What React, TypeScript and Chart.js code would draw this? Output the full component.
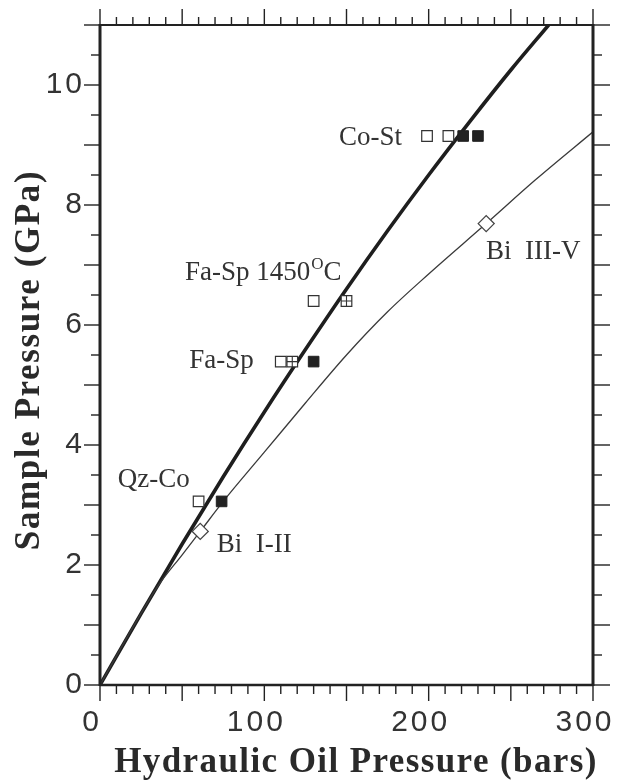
import React, { useEffect, useRef } from 'react';
import { Chart, registerables } from 'chart.js';

Chart.register(...registerables);

// Thick calibration curve (hydraulic oil pressure in bars -> sample pressure in GPa)
const thickX = [0, 25, 50, 75, 100, 125, 150, 175, 200, 225, 250, 273];
const thickY = [0, 1.19, 2.35, 3.47, 4.55, 5.59, 6.6, 7.57, 8.5, 9.39, 10.25, 11.0];

// Thin curve (Bi transitions)
const thinX = [0, 20, 35, 50, 61, 75, 100, 125, 150, 175, 200, 235, 265, 300];
const thinY = [0, 0.96, 1.64, 2.17, 2.56, 3.06, 3.88, 4.7, 5.5, 6.22, 6.85, 7.69, 8.42, 9.22];

// Open squares: Co-St, Co-St, Fa-Sp 1450, Fa-Sp, Qz-Co
const openSqX = [199, 212, 130, 110, 60];
const openSqY = [9.15, 9.15, 6.4, 5.39, 3.06];

// Crossed squares: Fa-Sp 1450, Fa-Sp
const gridSqX = [150, 117];
const gridSqY = [6.4, 5.39];

// Filled squares: Co-St, Co-St, Fa-Sp, Qz-Co
const filledSqX = [221, 230, 130, 74];
const filledSqY = [9.15, 9.15, 5.39, 3.06];

// Diamonds: Bi I-II, Bi III-V
const diamondX = [61, 235];
const diamondY = [2.56, 7.69];

// Axis ticks
const xTickStep = 100;
const yTickStep = 2;
const xMin = 0, xMax = 300, yMin = 0, yMax = 11;

// Annotation labels (anchored in data coordinates, left/baseline)
const noteText = ['Co-St', 'Fa-Sp 1450', 'Fa-Sp', 'Qz-Co', 'Bi  I-II', 'Bi  III-V'];
const noteX = [145.5, 51.7, 54.3, 10.8, 71, 234.9];
const noteY = [9.0, 6.75, 5.28, 3.3, 2.22, 7.1];

const xTitle = 'Hydraulic Oil Pressure (bars)';
const yTitle = 'Sample Pressure (GPa)';

const toXY = (xs: number[], ys: number[]) => xs.map((x, i) => ({ x, y: ys[i] }));

const framePlugin = {
  id: 'frame',
  beforeDraw(chart: any) {
    chart.ctx.letterSpacing = '3px';
  },
  afterDraw(chart: any) {
    const ctx = chart.ctx as CanvasRenderingContext2D;
    const { left, right, top, bottom } = chart.chartArea;
    const xs = chart.scales.x;
    const ys = chart.scales.y;
    ctx.save();
    (ctx as any).letterSpacing = '0px';
    ctx.strokeStyle = '#222';
    const line = (x1: number, y1: number, x2: number, y2: number) => {
      ctx.beginPath();
      ctx.moveTo(x1, y1);
      ctx.lineTo(x2, y2);
      ctx.stroke();
    };
    ctx.lineWidth = 1.4;
    for (let v = xMin; v <= xMax; v += 10) {
      const px = xs.getPixelForValue(v);
      const major = v % 50 === 0;
      line(px, bottom, px, bottom + (major ? 16 : 9));
      line(px, top, px, top - (major ? 16 : 8));
    }
    for (let v = yMin; v <= yMax + 0.001; v += 0.5) {
      const py = ys.getPixelForValue(v);
      const major = Math.abs(v - Math.round(v)) < 0.01;
      line(left, py, left - (major ? 16 : 9), py);
      line(right, py, right + (major ? 17 : 9), py);
    }
    // frame
    ctx.lineWidth = 3;
    line(left, top - 1, left, bottom + 1);
    line(right, top - 1, right, bottom + 1);
    ctx.lineWidth = 2;
    line(left, top, right, top);
    ctx.lineWidth = 2.5;
    line(left, bottom, right, bottom);

    // annotations
    ctx.fillStyle = '#333';
    ctx.textAlign = 'left';
    ctx.textBaseline = 'alphabetic';
    const noteFont = "27px 'Liberation Serif', serif";
    noteText.forEach((t, i) => {
      const px = xs.getPixelForValue(noteX[i]);
      const py = ys.getPixelForValue(noteY[i]);
      ctx.font = noteFont;
      ctx.fillText(t, px, py);
      if (i === 1) {
        const w = ctx.measureText(t).width;
        ctx.font = "17px 'Liberation Serif', serif";
        ctx.fillText('O', px + w + 1, py - 11);
        const w2 = ctx.measureText('O').width;
        ctx.font = noteFont;
        ctx.fillText('C', px + w + w2 + 1, py);
      }
    });

    // axis titles
    ctx.fillStyle = '#2a2a2a';
    ctx.font = "bold 35px 'Liberation Serif', serif";
    ctx.textAlign = 'center';
    ctx.textBaseline = 'middle';
    (ctx as any).letterSpacing = '1.4px';
    ctx.fillText(xTitle, 348, 755);
    (ctx as any).letterSpacing = '1.6px';
    ctx.translate(22, 352);
    ctx.rotate(-Math.PI / 2);
    ctx.fillText(yTitle, 0, 0);
    ctx.restore();
  },
};

export default function App() {
  const canvasRef = useRef<HTMLCanvasElement | null>(null);

  useEffect(() => {
    const canvas = canvasRef.current;
    if (!canvas) return;
    const tickFont = { family: "'Liberation Sans', Arial, sans-serif", size: 30 };
    const chart = new Chart(canvas, {
      type: 'line',
      data: {
        datasets: [
          {
            data: toXY(thickX, thickY),
            borderColor: '#1e1e1e',
            borderWidth: 3.6,
            pointRadius: 0,
            cubicInterpolationMode: 'monotone',
            fill: false,
            order: 5,
          },
          {
            data: toXY(thinX, thinY),
            borderColor: '#3a3a3a',
            borderWidth: 1.3,
            pointRadius: 0,
            cubicInterpolationMode: 'monotone',
            fill: false,
            order: 4,
          },
          {
            data: toXY(openSqX, openSqY),
            showLine: false,
            pointStyle: 'rect',
            pointRadius: 7.5,
            pointBackgroundColor: '#ffffff',
            pointBorderColor: '#333',
            pointBorderWidth: 1.2,
            order: 3,
          },
          {
            data: toXY(gridSqX, gridSqY),
            showLine: false,
            pointStyle: 'rect',
            pointRadius: 7.5,
            pointBackgroundColor: '#ffffff',
            pointBorderColor: '#333',
            pointBorderWidth: 1.2,
            order: 2,
          },
          {
            data: toXY(gridSqX, gridSqY),
            showLine: false,
            pointStyle: 'cross',
            pointRadius: 5.3,
            pointBorderColor: '#333',
            pointBorderWidth: 1.1,
            order: 1,
          },
          {
            data: toXY(filledSqX, filledSqY),
            showLine: false,
            pointStyle: 'rect',
            pointRadius: 7.5,
            pointBackgroundColor: '#222',
            pointBorderColor: '#222',
            pointBorderWidth: 1,
            order: 0,
          },
          {
            data: toXY(diamondX, diamondY),
            showLine: false,
            pointStyle: 'rectRot',
            pointRadius: 8,
            pointBackgroundColor: '#ffffff',
            pointBorderColor: '#444',
            pointBorderWidth: 1.3,
            order: 0,
          },
        ],
      },
      options: {
        responsive: false,
        animation: false,
        events: [],
        layout: { padding: { top: 17, right: 27, left: 0, bottom: 0 } },
        plugins: { legend: { display: false }, tooltip: { enabled: false } },
        scales: {
          x: {
            type: 'linear',
            min: xMin,
            max: xMax,
            grid: { display: false, drawTicks: false },
            border: { display: false },
            ticks: { stepSize: xTickStep, font: tickFont, color: '#333', padding: 20, labelOffset: -8, maxRotation: 0, autoSkip: false },
            afterFit(s: any) {
              s.height = 99;
              s.paddingLeft = 0;
              s.paddingRight = 0;
            },
          },
          y: {
            type: 'linear',
            min: yMin,
            max: yMax,
            grid: { display: false, drawTicks: false },
            border: { display: false },
            ticks: { stepSize: yTickStep, includeBounds: false, font: tickFont, color: '#333', padding: 15, autoSkip: false },
            afterFit(s: any) {
              s.width = 92;
              s.paddingTop = 0;
              s.paddingBottom = 0;
            },
          },
        },
      },
      plugins: [framePlugin],
    } as any);
    return () => chart.destroy();
  }, []);

  return (
    <div style={{ width: 612, height: 776 }}>
      <canvas ref={canvasRef} width={612} height={776} style={{ display: 'block' }} />
    </div>
  );
}
